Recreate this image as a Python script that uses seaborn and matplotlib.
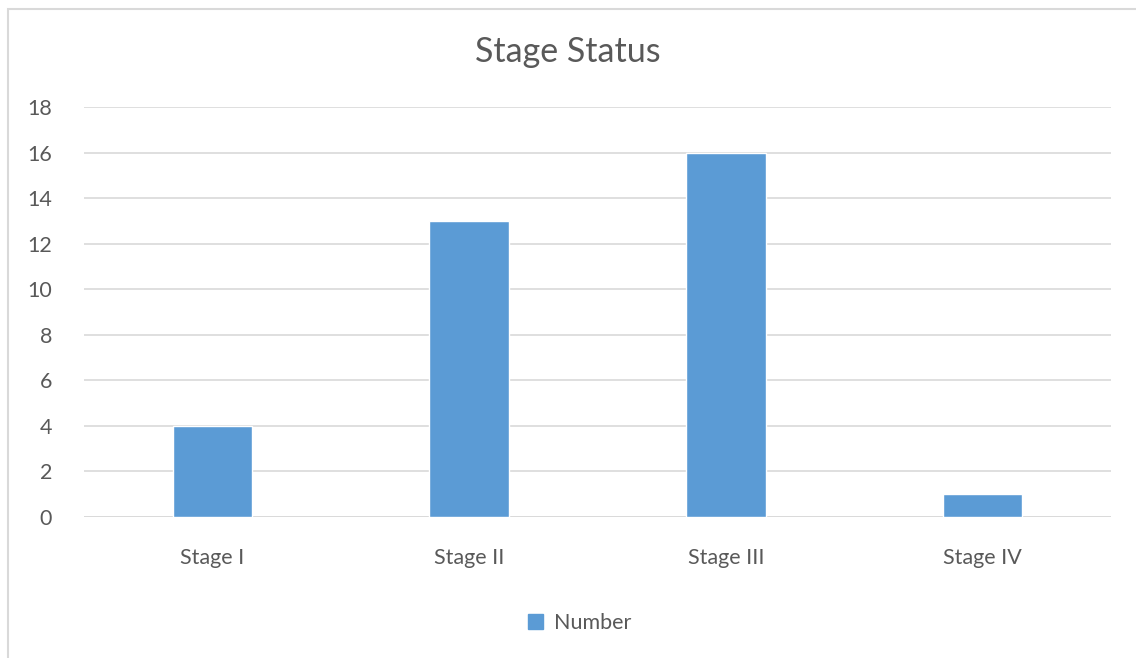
import matplotlib.pyplot as plt
import matplotlib.patches as mpatches
import seaborn as sns
import pandas as pd

stages = ["Stage I", "Stage II", "Stage III", "Stage IV"]
number = [4, 13, 16, 1]
yticks = [0, 2, 4, 6, 8, 10, 12, 14, 16, 18]

df = pd.DataFrame({"stage": stages, "Number": number})

sns.set_style("white")
plt.rcParams["font.family"] = ["Lato", "DejaVu Sans"]

fig = plt.figure(figsize=(11.36, 6.58), dpi=100)
ax = fig.add_axes([84 / 1136, 1 - 517 / 658, (1111 - 84) / 1136, (517 - 107) / 658])

bar_color = "#5B9BD5"
text_color = "#595959"
grid_color = "#D9D9D9"

sns.barplot(data=df, x="stage", y="Number", color=bar_color, width=0.31,
            saturation=1, ax=ax, zorder=3)

ax.set_ylim(0, 18)
ax.set_yticks(yticks)
ax.set_xlim(-0.5, 3.5)
ax.yaxis.grid(True, color=grid_color, linewidth=1.2, zorder=0)
ax.set_axisbelow(True)
for s in ax.spines.values():
    s.set_visible(False)
ax.axhline(0, color=grid_color, linewidth=1.2, zorder=1)
ax.tick_params(axis="both", length=0, labelsize=15.5, colors=text_color)
ax.tick_params(axis="x", pad=22)
ax.tick_params(axis="y", pad=23)
ax.set_xlabel("")
ax.set_ylabel("")

fig.text(0.5, 1 - 52 / 658, "Stage Status", ha="center", va="center",
         fontsize=24.5, color=text_color)

handle = mpatches.Patch(color=bar_color, label="Number")
fig.legend(handles=[handle], loc="center", bbox_to_anchor=(0.51, 1 - 623 / 658),
           frameon=False, fontsize=15.5, labelcolor=text_color,
           handlelength=0.7, handleheight=0.7, handletextpad=0.5)

# chart area border (cropped at right and bottom)
border = mpatches.Rectangle((8 / 1136, -0.1), 1.2, (658 - 8) / 658 + 0.1 - 0.001,
                            transform=fig.transFigure, fill=False,
                            edgecolor=grid_color, linewidth=1.5)
fig.patches.append(border)

fig.savefig("out.png", dpi=100)
